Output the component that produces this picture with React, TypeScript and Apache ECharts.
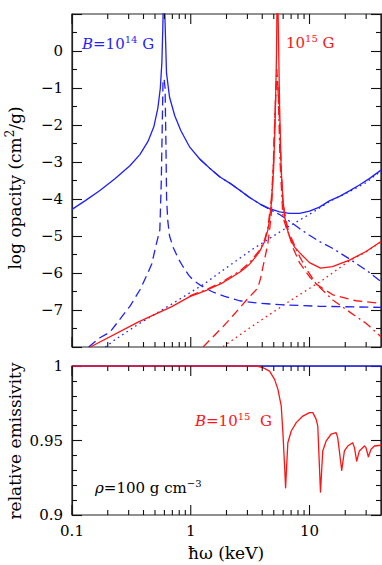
import React, { useEffect, useRef } from 'react';
import * as echarts from 'echarts';

const BLUE = '#1f1fff';
const RED = '#ff1414';
const FONT = "'DejaVu Serif', serif";

// ---- Top panel: log opacity (cm^2/g) vs photon energy (keV) ----
// B = 1e14 G (blue)
const blueTotal: [number, number][] = [
  [0.1, -4.28], [0.1286, -4.05], [0.1718, -3.77], [0.2298, -3.45], [0.3072, -3.1], [0.3727, -2.8],
  [0.4352, -2.45], [0.4887, -2.05], [0.528, -1.55], [0.5544, -1.0], [0.5715, -0.3], [0.5815, 0.6],
  [0.593, 2.0], [0.605, 1.0], [0.625, -0.6], [0.663, -1.25], [0.7335, -1.75], [0.824, -2.15],
  [0.981, -2.6], [1.19, -2.92], [1.445, -3.17], [1.75, -3.4], [2.127, -3.57], [2.58, -3.76],
  [3.13, -3.96], [3.8, -4.13], [4.61, -4.26], [5.6, -4.35], [6.79, -4.39], [8.24, -4.39],
  [10.0, -4.33], [12.13, -4.22], [14.7, -4.05], [17.9, -3.93], [21.7, -3.78], [26.3, -3.62],
  [31.9, -3.45], [40, -3.22],
];
const blueDashed: [number, number][] = [
  [0.138, -8.0], [0.1718, -7.75], [0.2086, -7.6], [0.263, -7.18], [0.3072, -6.9], [0.3727, -6.46],
  [0.4352, -6.0], [0.47, -5.75], [0.51, -5.25], [0.549, -4.84], [0.565, -3.5], [0.577, -1.8],
  [0.5835, -0.85], [0.596, -0.75], [0.608, -1.0], [0.618, -2.5], [0.626, -4.0], [0.641, -4.6],
  [0.663, -5.0], [0.7096, -5.3], [0.788, -5.62], [0.8617, -5.83], [0.9566, -6.05], [1.045, -6.19],
  [1.19, -6.32], [1.5, -6.5], [1.931, -6.63], [2.58, -6.75], [3.8, -6.82], [6.15, -6.86],
  [12.13, -6.9], [40, -6.93],
];
const blueDotted: [number, number][] = [
  [0.1905, -8.0], [0.231, -7.8], [0.3635, -7.38], [0.692, -6.84], [1.32, -6.28], [1.82, -5.95],
  [3.34, -5.35], [6.37, -4.78], [10.67, -4.36], [14.7, -4.07], [21.7, -3.8], [29.9, -3.56], [40, -3.24],
];
const blueDashDot: [number, number][] = [
  [1.19, -2.92], [1.445, -3.17], [1.75, -3.4], [2.127, -3.57], [2.58, -3.76], [3.13, -3.96],
  [3.8, -4.13], [4.61, -4.28], [5.6, -4.42], [6.79, -4.6], [8.24, -4.8], [10.0, -4.98],
  [12.13, -5.15], [15.6, -5.33], [21.7, -5.62], [29.9, -5.92], [40, -6.23],
];

// B = 1e15 G (red)
const redTotal: [number, number][] = [
  [0.1426, -8.0], [0.3635, -7.32], [0.692, -6.91], [0.981, -6.64], [1.37, -6.46], [1.82, -6.28],
  [2.127, -6.15], [2.58, -5.98], [2.843, -5.88], [3.13, -5.76], [3.45, -5.6], [3.8, -5.42],
  [4.19, -5.15], [4.46, -4.84], [4.61, -4.55], [4.77, -4.12], [4.98, -3.22], [5.13, -2.0],
  [5.28, 0], [5.35, 2], [5.44, 1.0], [5.6, -1.5], [5.78, -3.22], [5.97, -4.0], [6.16, -4.45],
  [6.47, -4.8], [6.79, -5.02], [7.48, -5.3], [8.24, -5.45], [10.0, -5.72], [12.37, -5.87],
  [15.6, -5.83], [21.7, -5.65], [29.9, -5.42], [40, -5.15],
];
const redDashed: [number, number][] = [
  [1.27, -8.0], [1.87, -7.45], [2.343, -7.1], [2.95, -6.73], [3.66, -6.41], [3.87, -6.15],
  [4.06, -5.83], [4.27, -5.5], [4.46, -5.2], [4.61, -4.85], [4.77, -4.39], [4.94, -3.2],
  [5.08, -2.0], [5.23, -1.0], [5.33, -0.75], [5.44, -1.0], [5.6, -2.0], [5.78, -3.2],
  [5.97, -4.1], [6.37, -4.6], [6.79, -5.0], [7.2, -5.29], [8.24, -5.72], [10.0, -6.1],
  [11.4, -6.3], [15.7, -6.59], [24.7, -6.75], [40, -6.82],
];
const redDotted: [number, number][] = [
  [1.87, -7.99], [3.57, -7.36], [6.79, -6.76], [12.9, -6.19], [21.7, -5.67], [29.9, -5.43], [40, -5.16],
];
const redDashDot: [number, number][] = [
  [0.981, -6.62], [1.37, -6.44], [1.82, -6.25], [2.58, -5.95], [3.13, -5.72], [3.8, -5.38],
  [4.19, -5.1], [4.46, -4.78], [4.77, -4.0], [4.98, -3.0], [5.18, -1.2], [5.31, -0.5],
  [5.46, -1.2], [5.65, -3.0], [5.97, -4.48], [6.47, -4.85], [7.02, -5.05], [8.24, -5.55],
  [9.67, -5.95], [11.4, -6.3], [15.7, -6.73], [21.7, -7.05], [29.9, -7.36], [40, -7.72],
];

// ---- Bottom panel: relative emissivity ----
const blueEmissivity: [number, number][] = [[0.1, 1], [40, 1]];
const redEmissivity: [number, number][] = [
  [0.1, 1], [3.59, 1], [4.05, 0.9989], [4.61, 0.9966], [5.08, 0.991], [5.42, 0.9843],
  [5.78, 0.9732], [5.97, 0.9553], [6.17, 0.9329], [6.29, 0.9183], [6.44, 0.935], [6.57, 0.9485],
  [7.02, 0.9564], [7.73, 0.962], [8.79, 0.9664], [10.0, 0.9687], [10.67, 0.9687], [11.38, 0.9642],
  [11.74, 0.9597], [12.37, 0.9154], [12.93, 0.943], [13.81, 0.9497], [15.2, 0.9542], [16.75, 0.9553],
  [17.28, 0.9519], [18.68, 0.93], [19.68, 0.943], [20.99, 0.9463], [23.1, 0.9485], [23.9, 0.9452],
  [24.97, 0.9362], [26.3, 0.943], [28.97, 0.9463], [29.9, 0.9452], [31.3, 0.9391], [33.0, 0.9441],
  [35.2, 0.9463], [40, 0.9468],
];

// ---- Axes ----
const xMajorTicks = [0.1, 1, 10];
const xMinorTicks = [0.2, 0.3, 0.4, 0.5, 0.6, 0.7, 0.8, 0.9, 2, 3, 4, 5, 6, 7, 8, 9, 20, 30];
const xRange = [0.1, 40];
const topYRange = [-8, 1];
const botYRange = [0.9, 1];

const FRAME = '#222';
const TICK = '#111';

function richStyles(color: string, size: number) {
  const s = Math.round(size * 0.68);
  return {
    n: { fill: color, fontSize: size, fontFamily: FONT, lineHeight: size + 5 },
    i: { fill: color, fontSize: size, fontFamily: FONT, fontStyle: 'italic', lineHeight: size + 5 },
    s: { fill: color, fontSize: s, fontFamily: FONT, verticalAlign: 'top', lineHeight: s + 1 },
  };
}

function tickSeries(xi: number, yi: number, yMin: number, yMax: number) {
  const mid = (yMin + yMax) / 2;
  const data = [
    ...xMajorTicks.map((v) => [v, mid, 1]),
    ...xMinorTicks.map((v) => [v, mid, 0]),
  ];
  return {
    type: 'custom',
    xAxisIndex: xi,
    yAxisIndex: yi,
    silent: true,
    z: 6,
    data,
    encode: { x: 0, y: 1 },
    renderItem: (_p: any, api: any) => {
      const v = api.value(0);
      const major = api.value(2) === 1;
      const b = api.coord([v, yMin]);
      const t = api.coord([v, yMax]);
      const len = major ? 10 : 5;
      const style = { stroke: TICK, lineWidth: 1.1, fill: null };
      return {
        type: 'group',
        children: [
          { type: 'line', shape: { x1: b[0], y1: b[1], x2: b[0], y2: b[1] - len }, style },
          { type: 'line', shape: { x1: t[0], y1: t[1], x2: t[0], y2: t[1] + len }, style },
        ],
      };
    },
  };
}

function lineSeries(data: [number, number][], color: string, type: any, xi: number, yi: number) {
  return {
    type: 'line',
    data,
    xAxisIndex: xi,
    yAxisIndex: yi,
    symbol: 'none',
    showSymbol: false,
    smooth: false,
    silent: true,
    z: 3,
    lineStyle: { color, width: 1.3, type, join: 'round' },
  };
}

const DASH = [9, 5];
const DOT = [1.6, 3.6];
const DASHDOT = [9, 4, 2, 4];

function yAxisBase(gridIndex: number, range: number[], interval: number, split: number, right: boolean, fmt: (v: number) => string) {
  return {
    type: 'value',
    gridIndex,
    position: right ? 'right' : 'left',
    min: range[0],
    max: range[1],
    interval,
    axisLine: { show: true, lineStyle: { color: FRAME, width: 1.2 } },
    splitLine: { show: false },
    axisTick: { show: true, inside: true, length: 10, lineStyle: { color: TICK, width: 1.1 } },
    minorTick: { show: true, splitNumber: split, length: 5, lineStyle: { color: TICK, width: 1.1 } },
    axisLabel: {
      show: !right,
      margin: 9,
      color: '#000',
      fontFamily: FONT,
      fontSize: 15,
      formatter: fmt,
    },
  };
}

export default function App() {
  const ref = useRef<HTMLDivElement>(null);

  useEffect(() => {
    document.body.style.margin = '0';
    if (!ref.current) return;
    const chart = echarts.init(ref.current, null, { renderer: 'svg' });

    const topFmt = (v: number) => {
      if (v === topYRange[0] || v === topYRange[1]) return '';
      return v < 0 ? '\u2212' + Math.abs(v) : String(v);
    };
    const botFmt = (v: number) => String(parseFloat(v.toFixed(2)));
    const xFmt = (v: number) => {
      const l = Math.log10(v);
      return Math.abs(l - Math.round(l)) < 1e-6 ? String(parseFloat(v.toPrecision(3))) : '';
    };

    const xAxisBase = (gridIndex: number, showLabel: boolean) => ({
      type: 'log',
      logBase: 10,
      gridIndex,
      min: xRange[0],
      max: xRange[1],
      axisLine: { show: false },
      splitLine: { show: false },
      axisTick: { show: false },
      minorTick: { show: false },
      axisLabel: {
        show: showLabel,
        margin: 8,
        color: '#000',
        fontFamily: FONT,
        fontSize: 15,
        showMaxLabel: false,
        formatter: xFmt,
      },
    });

    const option: any = {
      animation: false,
      backgroundColor: '#fff',
      grid: [
        { left: 72, top: 14, width: 309, height: 333, show: true, borderColor: FRAME, borderWidth: 1.2, backgroundColor: 'transparent' },
        { left: 72, top: 366, width: 309, height: 149, show: true, borderColor: FRAME, borderWidth: 1.2, backgroundColor: 'transparent' },
      ],
      xAxis: [xAxisBase(0, false), xAxisBase(1, true)],
      yAxis: [
        yAxisBase(0, topYRange, 1, 2, false, topFmt),
        yAxisBase(0, topYRange, 1, 2, true, topFmt),
        yAxisBase(1, botYRange, 0.05, 5, false, botFmt),
        yAxisBase(1, botYRange, 0.05, 5, true, botFmt),
      ],
      series: [
        lineSeries(blueDashDot, BLUE, DASHDOT, 0, 0),
        lineSeries(blueDotted, BLUE, DOT, 0, 0),
        lineSeries(blueDashed, BLUE, DASH, 0, 0),
        lineSeries(blueTotal, BLUE, 'solid', 0, 0),
        lineSeries(redDashDot, RED, DASHDOT, 0, 0),
        lineSeries(redDotted, RED, DOT, 0, 0),
        lineSeries(redDashed, RED, DASH, 0, 0),
        lineSeries(redTotal, RED, 'solid', 0, 0),
        lineSeries(blueEmissivity, BLUE, 'solid', 1, 2),
        lineSeries(redEmissivity, RED, 'solid', 1, 2),
        tickSeries(0, 0, topYRange[0], topYRange[1]),
        tickSeries(1, 2, botYRange[0], botYRange[1]),
      ],
      graphic: [
        {
          type: 'text', x: 82, y: 44, z: 10,
          style: { text: '{i|B}{n|=10}{s|14}{n| G}', rich: richStyles(BLUE, 15), textVerticalAlign: 'middle' },
        },
        {
          type: 'text', x: 286, y: 43, z: 10,
          style: { text: '{n|10}{s|15}{n| G}', rich: richStyles(RED, 15), textVerticalAlign: 'middle' },
        },
        {
          type: 'text', x: 195, y: 421, z: 10,
          style: { text: '{i|B}{n|=10}{s|15}{n|  G}', rich: richStyles(RED, 15), textVerticalAlign: 'middle' },
        },
        {
          type: 'text', x: 95, y: 488, z: 10,
          style: { text: '{i|\u03c1}{n|=100 g cm}{s|\u22123}', rich: richStyles('#000', 15), textVerticalAlign: 'middle' },
        },
        {
          type: 'text', x: 15, y: 188, rotation: Math.PI / 2, z: 10,
          style: { text: '{n|log opacity (cm}{s|2}{n|/g)}', rich: richStyles('#000', 17), textAlign: 'center', textVerticalAlign: 'middle' },
        },
        {
          type: 'text', x: 15, y: 441, rotation: Math.PI / 2, z: 10,
          style: { text: 'relative emissivity', fill: '#000', fontFamily: FONT, fontSize: 17, textAlign: 'center', textVerticalAlign: 'middle' },
        },
        {
          type: 'text', x: 226, y: 553, z: 10,
          style: { text: '\u0127\u03c9 (keV)', fill: '#000', fontFamily: FONT, fontSize: 17, textAlign: 'center', textVerticalAlign: 'middle' },
        },
      ],
    };

    chart.setOption(option);
    return () => chart.dispose();
  }, []);

  return <div ref={ref} style={{ width: 382, height: 565 }} />;
}
